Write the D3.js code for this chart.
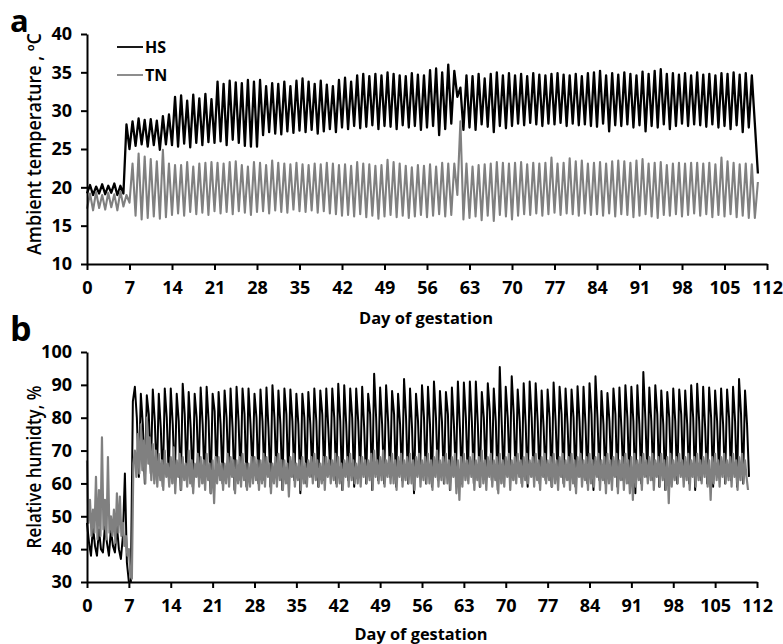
<!DOCTYPE html>
<html>
<head>
<meta charset="utf-8">
<script src="https://cdn.jsdelivr.net/npm/d3@7"></script>
<style>
  body { margin: 0; background: #fff; }
  svg { display: block; font-family: 'Open Sans', sans-serif; }
  .axis path, .axis line { stroke: #000; stroke-width: 2; }
  .axis text { font-size: 18px; font-weight: 700; fill: #000; font-family: 'Open Sans', sans-serif; }
  .series { fill: none; stroke-linejoin: round; }
</style>
</head>
<body>
<svg></svg>
<script>
var width = 783;
var height = 644;

// ---------- data ----------
var dayTicks = [0, 7, 14, 21, 28, 35, 42, 49, 56, 63, 70, 77, 84, 91, 98, 105, 112];
var tempTicks = [10, 15, 20, 25, 30, 35, 40];
var rhTicks = [30, 40, 50, 60, 70, 80, 90, 100];
var seriesNames = ['HS', 'TN'];

// ambient temperature, one reading at the start of each day and one at mid-day (days 0..110)
var hsTempNight = [
  19.2, 19.0, 19.2, 19.1, 19.3, 19.0, 19.2,
  25.0, 25.4, 25.6, 25.3, 25.5, 24.9, 25.6,
  25.5, 25.3, 25.7, 25.2, 25.8, 25.5, 25.9,
  25.8, 26.0, 25.5, 26.2, 25.8, 25.4, 25.3,
  25.3, 26.8, 27.2, 27.0, 26.9, 27.3, 27.1,
  27.4, 27.2, 27.5, 27.0, 27.3, 27.6, 27.2,
  27.8, 27.6, 28.0, 27.7, 27.9, 28.1, 27.6,
  28.0, 27.9, 27.6, 28.1, 27.8, 28.0, 27.5,
  27.8, 28.0, 26.8, 27.6, 28.3, 31.8, 27.5,
  27.8, 27.5, 28.2, 27.9, 27.2, 28.0, 27.7,
  28.0, 28.3, 28.1, 28.4, 28.2, 28.0, 28.3,
  28.2, 28.4, 28.0, 28.3, 28.1, 28.2, 28.0,
  27.9, 28.3, 27.3, 28.1, 28.0, 28.2, 27.8,
  28.1, 27.3, 28.0, 27.8, 28.2, 27.6, 28.0,
  28.3, 28.0, 28.2, 28.1, 27.9, 28.2, 27.8,
  28.0, 27.6, 28.1, 27.2, 27.8, 28.3
];
var hsTempDay = [
  20.3, 20.1, 20.4, 20.2, 20.5, 20.2, 28.2,
  28.6, 29.0, 28.8, 28.9, 28.7, 29.3, 29.5,
  31.8, 32.0, 31.3, 32.1, 31.6, 32.2, 31.5,
  33.8, 33.5, 33.9, 33.7, 33.6, 34.0, 33.8,
  34.0, 33.2, 33.6, 33.5, 33.8, 33.2, 33.9,
  34.2, 33.8, 33.5, 33.9, 33.4, 33.2, 34.0,
  34.3, 33.8, 34.6, 34.8, 34.5, 34.8, 34.6,
  35.0, 34.8, 34.6, 34.5, 34.9, 34.7, 34.6,
  35.3, 35.5, 35.0, 36.0, 35.2, 33.0, 34.6,
  34.5, 34.8, 34.2, 34.8, 35.0, 34.6, 34.9,
  34.6, 34.8, 34.5, 34.9, 34.7, 34.6, 34.8,
  34.9, 34.7, 34.6, 34.8, 34.5, 34.9, 35.0,
  35.2, 34.6, 34.9, 34.7, 35.0, 34.8, 34.6,
  35.1, 34.8, 35.2, 35.4, 34.8, 34.9, 34.7,
  34.9, 34.6, 35.0, 34.7, 34.8, 34.6, 34.9,
  34.8, 35.0, 34.7, 34.9, 34.6, 21.8
];
var tnTempNight = [
  17.2, 17.0, 17.3, 17.1, 17.4, 17.0, 17.5,
  18.0, 16.3, 15.8, 16.0, 16.2, 15.9, 16.1,
  16.4, 16.6, 16.3, 16.8, 16.5, 16.7, 16.4,
  16.9, 16.6, 16.8, 16.5, 16.9, 16.7, 16.4,
  16.8, 16.9, 16.6, 17.0, 16.8, 16.7, 17.1,
  16.9, 16.8, 17.0, 16.7, 16.9, 16.6, 16.5,
  16.3, 16.4, 16.2, 16.5, 16.1, 16.3, 15.9,
  16.2, 16.4, 16.1, 16.3, 16.0, 16.2, 16.4,
  16.1, 16.3, 16.5, 16.2, 16.4, 19.0, 15.8,
  16.0, 16.2, 15.7, 16.3, 15.6, 16.4, 16.2,
  15.8, 16.3, 16.5, 16.4, 16.6, 16.3, 16.5,
  16.7, 16.4, 16.6, 16.5, 16.3, 16.6, 16.4,
  16.5, 16.3, 16.6, 16.2, 16.5, 16.4, 16.1,
  16.3, 16.5, 16.2, 16.0, 16.4, 16.3, 16.5,
  16.2, 16.4, 16.6, 16.3, 16.5, 16.1, 16.4,
  16.2, 16.5, 16.1, 16.3, 16.0, 16.0
];
var tnTempDay = [
  19.2, 19.4, 19.0, 19.3, 19.1, 19.5, 19.0,
  23.1, 24.4, 24.0, 23.7, 23.4, 24.9, 23.1,
  22.9, 22.9, 23.3, 22.7, 23.1, 23.2, 23.3,
  23.2, 23.1, 23.3, 23.4, 22.9, 22.7, 23.3,
  23.2, 22.9, 23.5, 23.2, 23.1, 23.0, 23.2,
  23.0, 22.9, 23.1, 23.0, 23.2, 23.1, 22.9,
  23.0, 22.8, 23.3, 23.1, 23.0, 22.8, 22.9,
  23.6, 23.3, 23.1, 22.8, 22.6, 22.9, 22.8,
  23.0, 22.7, 23.2, 23.1, 23.1, 28.6, 23.1,
  22.7, 22.9, 23.0, 23.1, 23.3, 23.2, 23.1,
  23.2, 23.3, 23.0, 23.2, 23.1, 23.2, 23.9,
  23.1, 23.2, 23.8, 23.4, 23.5, 23.1, 23.2,
  23.3, 23.1, 23.4, 23.5, 23.4, 23.2, 23.5,
  23.7, 23.1, 23.2, 23.3, 22.9, 23.1, 23.2,
  23.1, 23.2, 23.2, 23.1, 23.2, 23.0, 23.9,
  23.4, 23.2, 23.0, 23.1, 23.0, 20.7
];

// relative humidity HS, three readings a day: peak, shoulder, trough (days 0..110)
var hsRhPeak = [
  48, 47, 46, 47, 46, 47, 44, 30,
  89.4, 87.3, 86.8, 88.6, 87.3, 88.9, 88.9, 87.3, 90.3, 87.8,
  87.3, 89.2, 89.4, 87.3, 87.8, 88.3, 88.9, 89.4, 88.9, 88.9,
  87.3, 88.6, 89.2, 89.9, 88.3, 88.9, 88.6, 87.3, 87.3, 87.8,
  88.9, 88.3, 88.9, 88.9, 90.3, 89.9, 88.9, 88.9, 89.4, 87.3,
  93.4, 89.2, 89.9, 88.1, 87.3, 91.8, 88.9, 87.3, 89.9, 89.4,
  91.0, 88.1, 87.8, 89.2, 91.0, 90.7, 91.0, 91.0, 87.8, 90.5,
  88.9, 95.4, 89.4, 92.6, 88.6, 90.5, 91.0, 90.5,
  88.3, 88.6, 90.7, 89.4, 88.9, 88.6, 89.6, 89.4, 90.5, 92.6,
  88.1, 87.5, 88.9, 89.2, 89.9, 89.4, 89.9, 93.9, 89.2, 89.9,
  88.3, 87.8, 88.9, 88.6, 88.3, 89.9, 90.3, 89.4, 89.2, 88.3,
  88.9, 88.6, 89.4, 91.8, 88.3
];
var hsRhShoulder = [
  42, 41, 40, 42, 41, 40, 63, 30,
  80, 78, 81, 79, 77, 80, 78,
  79, 81, 77, 80, 78, 79, 82,
  78, 80, 77, 79, 81, 78, 80,
  79, 77, 80, 78, 81, 79, 78,
  80, 78, 79, 81, 77, 80, 79,
  78, 80, 79, 77, 81, 80, 78,
  79, 81, 78, 80, 77, 79, 80,
  78, 80, 79, 81, 78, 77, 80,
  79, 78, 80, 82, 79, 78, 80,
  81, 79, 78, 80, 79, 77, 80,
  79, 81, 78, 80, 79, 78, 81,
  80, 78, 79, 81, 77, 80, 79,
  78, 80, 79, 81, 78, 80, 79,
  81, 78, 80, 79, 77, 80, 79,
  78, 80, 79, 81, 78
];
var hsRhTrough = [
  38, 38, 39, 38, 39, 37, 36, 85,
  62, 60, 63, 61, 59, 62, 60,
  58, 61, 59, 62, 60, 57, 61,
  60, 62, 58, 61, 59, 63, 60,
  61, 59, 62, 58, 60, 61, 57,
  60, 62, 59, 61, 63, 60, 58,
  61, 59, 62, 60, 58, 61, 60,
  62, 59, 61, 60, 57, 62, 60,
  59, 61, 60, 58, 62, 60, 61,
  60, 59, 62, 61, 58, 60, 62,
  61, 60, 59, 62, 60, 61, 59,
  62, 60, 61, 59, 62, 60, 58,
  61, 60, 62, 59, 61, 60, 57,
  60, 62, 61, 59, 58, 61, 60,
  62, 60, 58, 61, 60, 59, 62,
  60, 61, 59, 60, 62
];

// relative humidity TN, four readings a day (every 6 h from day 0)
var tnRh = [
  67, 48, 55, 44,   52, 45, 62, 43,   58, 44, 74, 46,   55, 43, 68, 45,
  50, 44, 52, 42,   57, 45, 56, 44,   48, 41, 44, 38,   40, 32, 31, 66,
  70, 62, 75, 63,   78, 64, 73, 60,   80, 66, 74, 61,   72, 60, 70, 59,
  69, 61, 67, 58,   70, 62, 66, 59,   68, 60, 71, 57,   67, 62, 69, 58,
  68, 61, 66, 59,   70, 60, 67, 57,   66, 62, 69, 59,   68, 60, 67, 58,
  69, 61, 66, 57,   67, 54, 68, 60,   68, 61, 66, 58,   66, 60, 69, 59,
  68, 62, 67, 57,   67, 60, 68, 59,   69, 61, 66, 58,   66, 59, 68, 60,
  68, 61, 67, 58,   67, 60, 69, 59,   68, 62, 66, 57,   66, 60, 68, 59,
  69, 61, 67, 58,   67, 60, 66, 56,   68, 62, 69, 59,   66, 61, 67, 58,
  68, 60, 66, 59,   67, 62, 68, 60,   69, 61, 67, 59,   66, 60, 68, 58,
  68, 62, 67, 60,   67, 61, 69, 59,   68, 60, 66, 58,   67, 62, 68, 59,
  69, 61, 67, 60,   66, 60, 68, 59,   68, 62, 67, 60,   67, 61, 69, 58,
  70, 62, 67, 60,   68, 61, 70, 59,   67, 62, 68, 60,   69, 60, 67, 58,
  68, 62, 69, 59,   67, 61, 68, 60,   69, 60, 67, 58,   68, 62, 69, 59,
  67, 61, 68, 60,   69, 60, 67, 58,   68, 62, 70, 59,   67, 61, 68, 60,
  69, 60, 67, 58,   68, 62, 69, 57,   67, 55, 68, 59,   69, 61, 67, 60,
  68, 62, 69, 58,   67, 61, 68, 59,   70, 60, 67, 58,   68, 62, 69, 59,
  67, 61, 68, 57,   69, 60, 67, 59,   68, 62, 69, 58,   67, 61, 68, 60,
  69, 62, 67, 59,   68, 61, 69, 60,   67, 62, 68, 59,   69, 61, 67, 58,
  68, 62, 69, 60,   67, 61, 68, 59,   69, 60, 67, 58,   68, 62, 69, 59,
  67, 61, 68, 58,   69, 60, 67, 57,   68, 62, 69, 59,   67, 61, 68, 58,
  69, 60, 67, 59,   68, 62, 69, 58,   67, 61, 68, 57,   69, 60, 67, 58,
  68, 62, 69, 57,   67, 61, 68, 58,   69, 60, 67, 57,   68, 55, 69, 59,
  67, 61, 68, 58,   69, 62, 67, 60,   68, 61, 69, 58,   67, 62, 68, 59,
  69, 61, 67, 58,   68, 54, 69, 59,   67, 61, 68, 60,   69, 62, 67, 59,
  68, 61, 69, 58,   67, 62, 68, 59,   69, 61, 67, 60,   68, 62, 69, 59,
  67, 55, 68, 60,   69, 61, 67, 59,   68, 62, 69, 60,   67, 61, 68, 59,
  69, 62, 67, 58,   68, 61, 69, 60,   67, 62, 58
];

// ---------- helpers ----------
function halfDays(night, day) {
  var pts = [];
  night.forEach(function (v, i) {
    pts.push({ t: i, v: v });
    pts.push({ t: i + 0.5, v: day[i] });
  });
  return pts;
}
function thirdDays(a, b, c) {
  var pts = [];
  a.forEach(function (v, i) {
    pts.push({ t: i, v: v });
    pts.push({ t: i + 1 / 3, v: b[i] });
    pts.push({ t: i + 2 / 3, v: c[i] });
  });
  return pts;
}
function quarterDays(arr) {
  return arr.map(function (v, i) { return { t: i / 4, v: v }; });
}

var svg = d3.select('svg')
    .attr('width', width)
    .attr('height', height);

// ---------- panel a ----------
var xA = d3.scaleLinear().domain([0, 112]).range([87, 767]);
var yA = d3.scaleLinear().domain([10, 40]).range([264, 34]);

var lineA = d3.line()
    .x(function (d) { return xA(d.t); })
    .y(function (d) { return yA(d.v); });

svg.append('path').attr('class', 'series')
    .attr('d', lineA(halfDays(hsTempNight, hsTempDay)))
    .attr('stroke', '#000').attr('stroke-width', 2.3);
svg.append('path').attr('class', 'series')
    .attr('d', lineA(halfDays(tnTempNight, tnTempDay)))
    .attr('stroke', '#808080').attr('stroke-width', 2.1);

svg.append('g').attr('class', 'axis')
    .attr('transform', 'translate(0,264)')
    .call(d3.axisBottom(xA).tickValues(dayTicks).tickSize(6).tickSizeOuter(0).tickPadding(11));
svg.append('g').attr('class', 'axis')
    .attr('transform', 'translate(87,0)')
    .call(d3.axisLeft(yA).tickValues(tempTicks).tickSize(6).tickSizeOuter(0).tickPadding(9));

// legend
var legendColor = d3.scaleOrdinal().domain(seriesNames).range(['#000', '#808080']);
var legend = svg.append('g');
seriesNames.forEach(function (name, i) {
    var yy = 47 + i * 28;
    legend.append('line')
        .attr('x1', 117).attr('x2', 143).attr('y1', yy).attr('y2', yy)
        .attr('stroke', legendColor(name)).attr('stroke-width', 1.8);
    legend.append('text')
        .attr('x', 145).attr('y', yy + 6)
        .attr('font-size', 16).attr('font-weight', 700)
        .text(name);
});

svg.append('text')
    .attr('x', 426).attr('y', 324)
    .attr('text-anchor', 'middle')
    .attr('font-size', 16).attr('font-weight', 700)
    .attr('textLength', 134).attr('lengthAdjust', 'spacingAndGlyphs')
    .text('Day of gestation');

svg.append('text')
    .attr('transform', 'translate(41,144) rotate(-90)')
    .attr('text-anchor', 'middle')
    .attr('font-size', 19).attr('font-weight', 600)
    .attr('textLength', 222).attr('lengthAdjust', 'spacingAndGlyphs')
    .text('Ambient temperature , ºC');

svg.append('text')
    .attr('x', 10).attr('y', 32)
    .attr('font-size', 31).attr('font-weight', 700)
    .text('a');

// ---------- panel b ----------
var xB = d3.scaleLinear().domain([0, 112]).range([87, 757]);
var yB = d3.scaleLinear().domain([30, 100]).range([582, 352]);

var lineB = d3.line()
    .x(function (d) { return xB(d.t); })
    .y(function (d) { return yB(d.v); });

svg.append('path').attr('class', 'series')
    .attr('d', lineB(thirdDays(hsRhPeak, hsRhShoulder, hsRhTrough)))
    .attr('stroke', '#000').attr('stroke-width', 2);
svg.append('path').attr('class', 'series')
    .attr('d', lineB(quarterDays(tnRh)))
    .attr('stroke', '#808080').attr('stroke-width', 2.2);

svg.append('g').attr('class', 'axis')
    .attr('transform', 'translate(0,582)')
    .call(d3.axisBottom(xB).tickValues(dayTicks).tickSize(6).tickSizeOuter(0).tickPadding(11));
svg.append('g').attr('class', 'axis')
    .attr('transform', 'translate(87,0)')
    .call(d3.axisLeft(yB).tickValues(rhTicks).tickSize(6).tickSizeOuter(0).tickPadding(9));

svg.append('text')
    .attr('x', 421).attr('y', 640)
    .attr('text-anchor', 'middle')
    .attr('font-size', 16).attr('font-weight', 700)
    .attr('textLength', 133).attr('lengthAdjust', 'spacingAndGlyphs')
    .text('Day of gestation');

svg.append('text')
    .attr('transform', 'translate(41,467) rotate(-90)')
    .attr('text-anchor', 'middle')
    .attr('font-size', 19).attr('font-weight', 600)
    .attr('textLength', 163).attr('lengthAdjust', 'spacingAndGlyphs')
    .text('Relative humidty, %');

svg.append('text')
    .attr('x', 10).attr('y', 341)
    .attr('font-size', 34).attr('font-weight', 700)
    .text('b');
</script>
</body>
</html>
